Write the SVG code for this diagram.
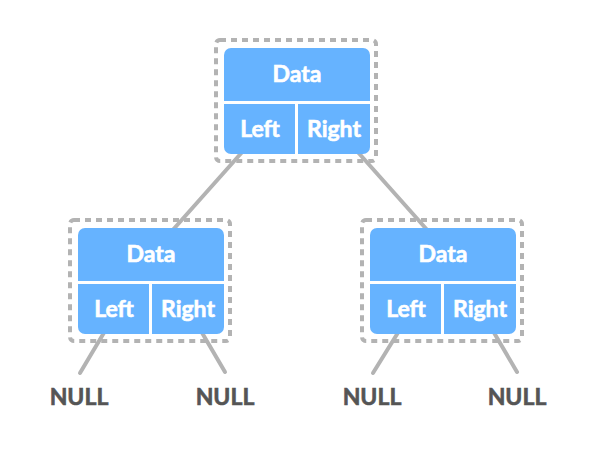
<svg xmlns="http://www.w3.org/2000/svg" width="596" height="458" viewBox="0 0 596 458">
<style>
.frame{fill:none;stroke:#b3b3b3;stroke-width:4;stroke-dasharray:6 5}
.box{fill:#66b3ff}
.div{stroke:#ffffff;stroke-width:3}
.lbl{font-family:Lato,"Liberation Sans",sans-serif;font-weight:bold;font-size:23px;fill:#ffffff;stroke:#ffffff;stroke-width:0.6;text-anchor:middle}
.null{font-family:Lato,"Liberation Sans",sans-serif;font-weight:bold;font-size:23px;fill:#555555;stroke:#555555;stroke-width:0.6;text-anchor:middle}
.edge{stroke:#b3b3b3;stroke-width:4;stroke-linecap:round}
</style>
<rect width="596" height="458" fill="#ffffff"/>
<g id="connectors">
<line class="edge" x1="244" y1="150" x2="171" y2="232"/>
<line class="edge" x1="356" y1="150" x2="429" y2="232"/>
<line class="edge" x1="105" y1="331" x2="80" y2="373"/>
<line class="edge" x1="201" y1="331" x2="225" y2="372"/>
<line class="edge" x1="399" y1="331" x2="373" y2="373"/>
<line class="edge" x1="493" y1="331" x2="517" y2="372"/>
</g>
<g id="node-root">
<rect class="frame" x="216" y="40" width="160" height="121" rx="4"/>
<rect class="box" x="224" y="48" width="146" height="106" rx="7"/>
<line class="div" x1="224" y1="102.5" x2="370" y2="102.5"/>
<line class="div" x1="296.5" y1="102" x2="296.5" y2="154"/>
<text class="lbl" x="297" y="82">Data</text>
<text class="lbl" x="260" y="137">Left</text>
<text class="lbl" x="334" y="137">Right</text>
</g>
<g id="node-left">
<rect class="frame" x="70" y="220" width="160" height="121" rx="4"/>
<rect class="box" x="78" y="228" width="146" height="106" rx="7"/>
<line class="div" x1="78" y1="282.5" x2="224" y2="282.5"/>
<line class="div" x1="150.5" y1="282" x2="150.5" y2="334"/>
<text class="lbl" x="151" y="262">Data</text>
<text class="lbl" x="114" y="317">Left</text>
<text class="lbl" x="188" y="317">Right</text>
</g>
<g id="node-right">
<rect class="frame" x="362" y="220" width="160" height="121" rx="4"/>
<rect class="box" x="370" y="228" width="146" height="106" rx="7"/>
<line class="div" x1="370" y1="282.5" x2="516" y2="282.5"/>
<line class="div" x1="442.5" y1="282" x2="442.5" y2="334"/>
<text class="lbl" x="443" y="262">Data</text>
<text class="lbl" x="406" y="317">Left</text>
<text class="lbl" x="480" y="317">Right</text>
</g>
<g id="null-1"><text class="null" x="79" y="405">NULL</text></g>
<g id="null-2"><text class="null" x="225" y="405">NULL</text></g>
<g id="null-3"><text class="null" x="372" y="405">NULL</text></g>
<g id="null-4"><text class="null" x="517" y="405">NULL</text></g>
</svg>
